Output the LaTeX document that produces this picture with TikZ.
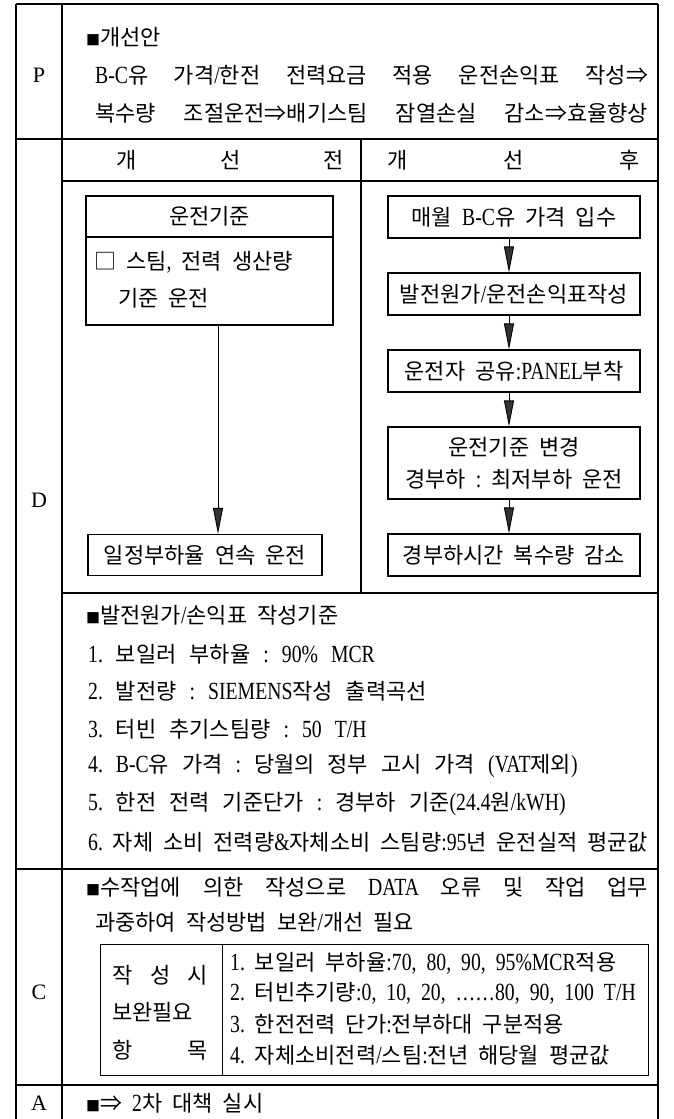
\documentclass[tikz,border=0pt]{standalone}
\usepackage{fontspec}
\setmainfont{Liberation Serif}[Scale=1.12,FakeStretch=0.8]
\newfontfamily\krfont{Noto Sans CJK KR}
\newfontfamily\latinfont{Liberation Serif}[Scale=1.12,FakeStretch=0.8]
\newfontfamily\labfont{Liberation Serif}
\usetikzlibrary{arrows.meta}
\XeTeXinterchartokenstate=1
\newXeTeXintercharclass\HanClass
\newcount\hcnt
\hcnt="21
\loop \XeTeXcharclass\hcnt=0 \ifnum\hcnt<"7E \advance\hcnt by 1 \repeat
\hcnt="AC00
\loop \XeTeXcharclass\hcnt=\HanClass \ifnum\hcnt<"D7A3 \advance\hcnt by 1 \repeat
\XeTeXcharclass`■=\HanClass
\XeTeXcharclass`□=\HanClass
\XeTeXcharclass`⇒=\HanClass
\XeTeXinterchartoks 0 \HanClass={\krfont}
\XeTeXinterchartoks 4095 \HanClass={\krfont}
\XeTeXinterchartoks \HanClass 0={\latinfont}
\XeTeXinterchartoks \HanClass 4095={\latinfont}
\newcommand\myfs{\fontsize{22}{26}\selectfont\frenchspacing\spaceskip=10pt plus 40pt minus 6pt\relax}
\newcommand\wide{\spaceskip=13pt plus 40pt minus 6pt\relax}
\newcommand\bul{{\fontsize{14}{14}\selectfont ■}}
\begin{document}
\begin{tikzpicture}[x=1pt,y=-1pt,font=\myfs,
  tl/.style={line width=1.3pt},
  bx/.style={draw,line width=1.1pt,inner sep=0pt},
  tx/.style={inner sep=0pt,anchor=west},
  lab/.style={font=\labfont\fontsize{22}{26}\selectfont},
  arr/.style={line width=0.9pt,-{Triangle[width=10pt,length=26pt,fill=black!80]}}]
\useasboundingbox (0,0) rectangle (673,1119);
% table frame
\draw[tl] (16,4) -- (658,4);
\draw[tl] (16,4) -- (16,1119);
\draw[tl] (62,4) -- (62,1119);
\draw[tl] (658,4) -- (658,1119);
\draw[tl] (16,139) -- (658,139);
\draw[tl] (62,181) -- (658,181);
\draw[tl] (361,139) -- (361,593);
\draw[tl] (62,593) -- (658,593);
\draw[tl] (16,869) -- (658,869);
\draw[tl] (16,1085) -- (658,1085);
% row labels
\node[lab] (P) at (39,75) {P};
\node[lab] (D) at (39,500) {D};
\node[lab] (C) at (39,992) {C};
\node[lab] (A) at (39,1103) {A};
% P section
\node[tx] (p1) at (86,37) {\bul 개선안};
\node[tx] (p2) at (95,75) {\makebox[553pt][s]{B-C유 가격/한전 전력요금 적용 운전손익표 작성⇒}};
\node[tx] (p3) at (95,113) {\makebox[553pt][s]{복수량 조절운전⇒배기스팀 잠열손실 감소⇒효율향상}};
% headers
\node[tx] (h1) at (116,160) {\makebox[228pt][s]{개 선 전}};
\node[tx] (h2) at (387,160) {\makebox[253pt][s]{개 선 후}};
% left flow
\node[bx,minimum width=247pt,minimum height=41pt] (L1) at (209.5,216.5) {운전기준};
\node[bx,minimum width=247pt,minimum height=88pt] (L2) at (209.5,281) {};
\node[tx] (L2a) at (94,262) {□ 스팀, 전력 생산량};
\node[tx] (L2b) at (118,298) {기준 운전};
\node[bx,minimum width=234pt,minimum height=41pt] (L3) at (205,555) {일정부하율 연속 운전};
\draw[arr] ([xshift=8.5pt]L2.south) -- ([xshift=8.5pt]L2.south |- L3.north);
% right flow
\node[bx,minimum width=252pt,minimum height=42pt] (R1) at (514,217) {매월 B-C유 가격 입수};
\node[bx,minimum width=252pt,minimum height=42pt] (R2) at (514,294) {발전원가/운전손익표작성};
\node[bx,minimum width=252pt,minimum height=42pt] (R3) at (514,371) {운전자 공유:PANEL부착};
\node[bx,minimum width=252pt,minimum height=72pt,align=center] (R4) at (514,463) {운전기준 변경\\[6pt]경부하 : 최저부하 운전};
\node[bx,minimum width=252pt,minimum height=42pt] (R5) at (514,555) {경부하시간 복수량 감소};
\draw[arr] ([xshift=-5pt]R1.south) -- ([xshift=-5pt]R2.north);
\draw[arr] ([xshift=-5pt]R2.south) -- ([xshift=-5pt]R3.north);
\draw[arr] ([xshift=-5pt]R3.south) -- ([xshift=-5pt]R4.north);
\draw[arr] ([xshift=-5pt]R4.south) -- ([xshift=-5pt]R5.north);
% D lower text
\node[tx] (d0) at (86,615) {\bul 발전원가/손익표 작성기준};
\node[tx] (d1) at (88,654) {\wide 1. 보일러 부하율 : 90\% MCR};
\node[tx] (d2) at (88,691) {\wide 2. 발전량 : SIEMENS작성 출력곡선};
\node[tx] (d3) at (88,729) {\wide 3. 터빈 추기스팀량 : 50 T/H};
\node[tx] (d4) at (88,766) {\wide 4. B-C유 가격 : 당월의 정부 고시 가격 (VAT제외)};
\node[tx] (d5) at (88,804) {\wide 5. 한전 전력 기준단가 : 경부하 기준(24.4원/kWH)};
\node[tx] (d6) at (88,842) {\spaceskip=2pt plus 20pt\relax\makebox[560pt][s]{6. 자체 소비 전력량\&자체소비 스팀량:95년 운전실적 평균값}};
% C section
\node[tx] (c1) at (86,887) {\makebox[562pt][s]{\bul 수작업에 의한 작성으로 DATA 오류 및 작업 업무}};
\node[tx] (c2) at (95,922) {과중하여 작성방법 보완/개선 필요};
\node[bx,anchor=north west,minimum width=122pt,minimum height=131pt] (T1) at (100,944) {};
\node[bx,anchor=north west,minimum width=426pt,minimum height=131pt] (T2) at (222,944) {};
\node[tx] (t1) at (112,975) {\makebox[96pt][s]{작 성 시}};
\node[tx] (t2) at (112,1012) {\makebox[96pt][s]{보완필요}};
\node[tx] (t3) at (112,1050) {\makebox[96pt][s]{항 목}};
\node[tx] (r1) at (230,963) {1. 보일러 부하율:70, 80, 90, 95\%MCR적용};
\node[tx] (r2) at (230,993) {2. 터빈추기량:0, 10, 20, ……80, 90, 100 T/H};
\node[tx] (r3) at (230,1024) {3. 한전전력 단가:전부하대 구분적용};
\node[tx] (r4) at (230,1055) {4. 자체소비전력/스팀:전년 해당월 평균값};
% A section
\node[tx] (a1) at (86,1103) {\bul ⇒ 2차 대책 실시};
\end{tikzpicture}
\end{document}
